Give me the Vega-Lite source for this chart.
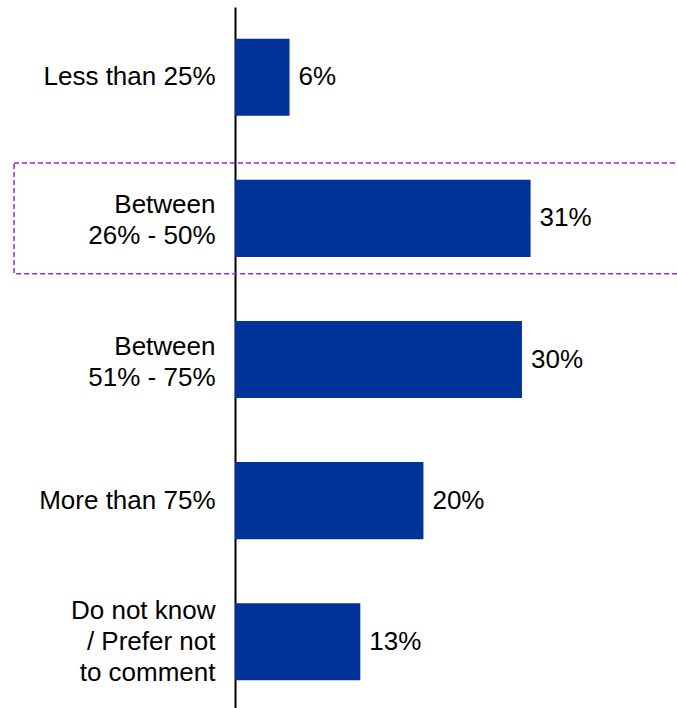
{
  "$schema": "https://vega.github.io/schema/vega-lite/v6.json",
  "autosize": "none",
  "width": 440,
  "height": 705,
  "padding": {"left": 235, "top": 7, "right": 2, "bottom": 0},
  "background": "white",
  "config": {"view": {"stroke": null}, "font": "Liberation Sans"},
  "data": {
    "values": [
      {"category": "Less than 25%", "share": 0.057},
      {"category": "Between|26% - 50%", "share": 0.309},
      {"category": "Between|51% - 75%", "share": 0.3},
      {"category": "More than 75%", "share": 0.197},
      {"category": "Do not know|/ Prefer not|to comment", "share": 0.131}
    ]
  },
  "encoding": {
    "y": {
      "field": "category",
      "type": "nominal",
      "sort": ["Less than 25%", "Between|26% - 50%", "Between|51% - 75%", "More than 75%", "Do not know|/ Prefer not|to comment"],
      "title": null,
      "scale": {"paddingInner": 0.454, "paddingOuter": 0.225},
      "axis": {
        "domain": true,
        "domainColor": "black",
        "domainWidth": 2,
        "ticks": false,
        "labelExpr": "split(datum.label, '|')",
        "labelFontSize": 26,
        "labelColor": "black",
        "labelLineHeight": 31,
        "labelPadding": 20,
        "labelLimit": 0,
        "labelAlign": "right",
        "labelBaseline": "middle",
        "labelOffset": {
          "condition": [
            {"test": "indexof(datum.value, 'Do not') == 0", "value": -31},
            {"test": "indexof(datum.value, 'Between') == 0", "value": -13}
          ],
          "value": 0
        }
      }
    }
  },
  "layer": [
    {
      "transform": [{"filter": "datum.category == 'Between|26% - 50%'"}],
      "mark": {
        "type": "bar",
        "fill": null,
        "fillOpacity": 0,
        "stroke": "#8A2BE2",
        "strokeWidth": 1.5,
        "strokeDash": [5, 3],
        "height": {"band": 1.44},
        "clip": false
      },
      "encoding": {
        "x": {"datum": -0.231, "type": "quantitative", "scale": {"domain": [0, 0.46], "nice": false, "zero": false}, "axis": null},
        "x2": {"datum": 0.48}
      }
    },
    {
      "mark": {"type": "bar", "color": "#003399"},
      "encoding": {
        "x": {"field": "share", "type": "quantitative", "scale": {"domain": [0, 0.46], "nice": false}, "axis": null}
      }
    },
    {
      "mark": {"type": "text", "align": "left", "dx": 9, "fontSize": 26, "color": "black", "baseline": "middle"},
      "encoding": {
        "x": {"field": "share", "type": "quantitative"},
        "text": {"field": "share", "type": "quantitative", "format": ".0%"}
      }
    }
  ]
}
